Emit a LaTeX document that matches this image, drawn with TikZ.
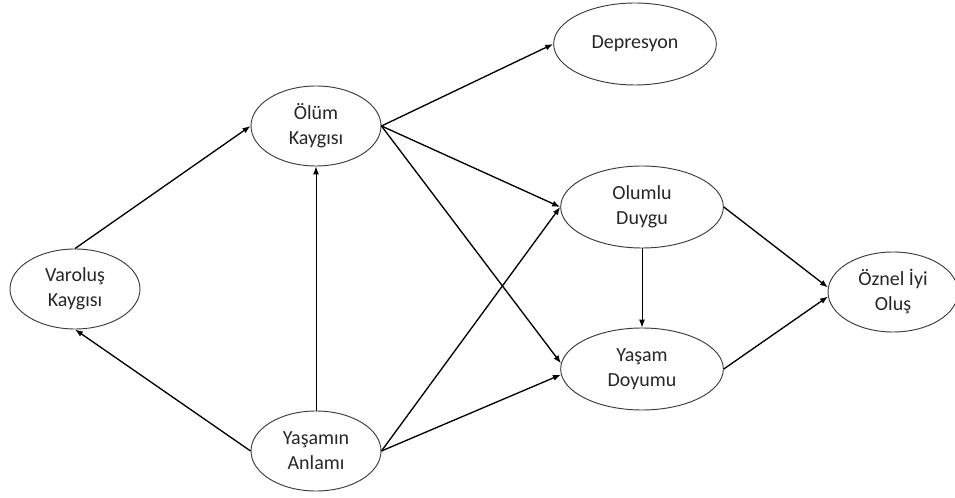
\documentclass[tikz,border=0pt]{standalone}
\usepackage{fontspec}
\setmainfont{Carlito}
\usepackage{tikz}
\usetikzlibrary{shapes.geometric,arrows.meta}
\definecolor{ink}{HTML}{262626}
\definecolor{rim}{HTML}{3A3A3A}
\tikzset{
  var/.style={ellipse, draw=rim, line width=0.7pt, inner sep=0pt,
    minimum width=97.5pt, minimum height=60pt, align=center, text=ink,
    font=\fontsize{15}{18.75}\selectfont},
  wide/.style={var, minimum width=122pt, minimum height=61.5pt},
  arr/.style={draw=black, line width=1pt, -{Latex[length=6pt,width=4.5pt]}},
  arrt/.style={arr, line width=0.75pt},
}

\begin{document}
\begin{tikzpicture}[x=0.75pt, y=-0.75pt]
  \useasboundingbox (0,0) rectangle (955,498);

  % nodes
  \node[var]  (varolus) at (75,289)  {Varoluş\\Kaygısı};
  \node[var]  (olum)    at (316,126) {Ölüm\\Kaygısı};
  \node[var]  (anlam)   at (316,451) {Yaşamın\\Anlamı};
  \node[wide] (depres)  at (635,44)  {Depresyon};
  \node[wide] (olumlu)  at (642,207) {Olumlu\\Duygu};
  \node[wide] (doyum)   at (642,369) {Yaşam\\Doyumu};
  \node[var]  (oznel)   at (893,292) {Öznel İyi\\Oluş};

  % paths
  \draw[arr]  (varolus.north) -- (olum.west);
  \draw[arr]  (anlam.west)    -- (varolus.south);
  \draw[arrt] (anlam.north)   -- (olum.south);
  \draw[arr]  (olum.east)     -- (depres.west);
  \draw[arr]  (olum.east)     -- (olumlu.west);
  \draw[arr]  (olum.east)     -- (doyum.176);
  \draw[arr]  (anlam.east)    -- (olumlu.west);
  \draw[arr]  (anlam.east)    -- (doyum.184);
  \draw[arrt] (olumlu.south)  -- (doyum.north);
  \draw[arr]  (olumlu.east)   -- (oznel.176);
  \draw[arr]  (doyum.east)    -- (oznel.184);
\end{tikzpicture}
\end{document}
